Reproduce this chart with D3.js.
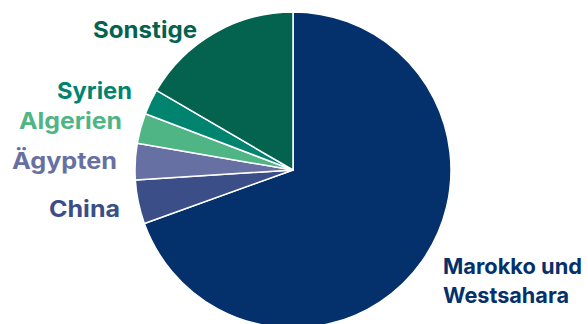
<!DOCTYPE html>
<html>
<head>
<meta charset="utf-8">
<script src="https://cdn.jsdelivr.net/npm/d3@7/dist/d3.min.js"></script>
<style>
  html, body { margin: 0; padding: 0; background: #ffffff; }
  svg { display: block; }
  text { font-family: "Inter", "Open Sans", sans-serif; font-weight: 700; }
</style>
</head>
<body>
<svg id="chart" width="588" height="324"></svg>
<script>
// Anteile in Prozent, im Uhrzeigersinn ab 12 Uhr
const categories = ["Marokko und Westsahara", "China", "Ägypten", "Algerien", "Syrien", "Sonstige"];
const shares = [69.5, 4.5, 3.7, 3.1, 2.6, 16.6];
const colors = ["#04306b", "#3b4e87", "#6670a3", "#4fb584", "#008470", "#03634f"];
// Beschriftungen: Zeilen, Zeilenbreiten, Schriftgröße, Ankerpunkt und Ausrichtung
const labelLines = [["Marokko und", "Westsahara"], ["China"], ["Ägypten"], ["Algerien"], ["Syrien"], ["Sonstige"]];
const labelWidths = [[139, 126], [71], [105], [103], [75], [104]];
const labelSizes = [22, 23, 23, 23, 23, 23];
const labelAnchors = [[443, 274, "start"], [120, 217, "end"], [117, 169, "end"], [122, 129, "end"], [132, 99, "end"], [197, 38, "end"]];

const svg = d3.select("#chart");
const cx = 293, cy = 170, radius = 158;

const pie = d3.pie().sort(null).value(d => d.value);
const arc = d3.arc().innerRadius(0).outerRadius(radius);
const data = categories.map((c, i) => ({ name: c, value: shares[i], color: colors[i] }));

const g = svg.append("g").attr("transform", `translate(${cx},${cy})`);
g.selectAll("path")
  .data(pie(data))
  .join("path")
  .attr("d", arc)
  .attr("fill", d => d.data.color)
  .attr("stroke", "#ffffff")
  .attr("stroke-width", 1.5)
  .attr("stroke-linejoin", "round");

const labels = svg.append("g");
labelLines.forEach((lines, i) => {
  const [x, y, anchor] = labelAnchors[i];
  lines.forEach((line, j) => {
    labels.append("text")
      .attr("x", x).attr("y", y + j * 29)
      .attr("text-anchor", anchor)
      .attr("fill", colors[i])
      .attr("font-size", labelSizes[i])
      .attr("textLength", labelWidths[i][j])
      .attr("lengthAdjust", "spacingAndGlyphs")
      .text(line);
  });
});
</script>
</body>
</html>
